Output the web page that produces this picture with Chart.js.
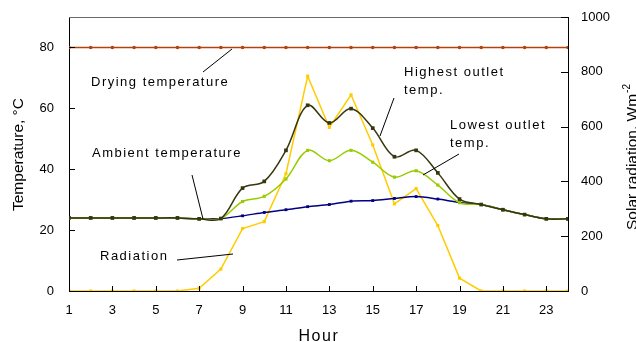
<!DOCTYPE html>
<html>
<head>
<meta charset="utf-8">
<script src="https://cdn.jsdelivr.net/npm/chart.js@4/dist/chart.umd.min.js"></script>
<style>
html,body{margin:0;padding:0;background:#fff;}
#wrap{width:636px;height:342px;position:relative;}
</style>
</head>
<body>
<div id="wrap"><canvas id="c" width="636" height="342"></canvas></div>
<script>
const hours = [1,2,3,4,5,6,7,8,9,10,11,12,13,14,15,16,17,18,19,20,21,22,23,24];
const dryingTemp = [80,80,80,80,80,80,80,80,80,80,80,80,80,80,80,80,80,80,80,80,80,80,80,80];
const highestOutlet = [24.0,24.0,24.0,24.0,24.0,24.0,23.7,23.8,33.8,36.0,46.2,61.0,55.2,59.9,53.5,44.1,46.2,38.8,30.2,28.4,26.7,25.1,23.7,23.7];
const lowestOutlet = [24.0,24.0,24.0,24.0,24.0,24.0,23.7,23.8,29.4,31.1,36.8,46.2,42.8,46.2,42.3,37.4,39.5,34.8,29.0,28.4,26.7,25.1,23.7,23.7];
const ambientTemp = [24.0,24.0,24.0,24.0,24.0,24.0,23.7,23.8,24.7,25.8,26.7,27.7,28.4,29.5,29.7,30.4,31.0,30.2,29.1,28.4,26.7,25.1,23.7,23.7];
const radiation = [0,0,0,0,0,0,10,80,228,253,428,784,597,716,533,318,374,239,47,0,0,0,0,0];
const tempTicks = [0,20,40,60,80];
const radTicks = [0,200,400,600,800,1000];
const hourTicks = [1,3,5,7,9,11,13,15,17,19,21,23];

const FONT = "'Liberation Sans', Arial, sans-serif";
const pts = arr => arr.map((v,i)=>({x:hours[i], y:v}));

const annotate = {
  id:'annotate',
  afterDraw(chart){
    const ctx = chart.ctx;
    const a = chart.chartArea;
    const xs = chart.scales.x, yl = chart.scales.y, yr = chart.scales.y1;
    ctx.save();
    // top frame line
    ctx.strokeStyle = '#6a6a6a'; ctx.lineWidth = 1;
    ctx.beginPath(); ctx.moveTo(a.left, Math.round(a.top)+0.5); ctx.lineTo(a.right, Math.round(a.top)+0.5); ctx.stroke();
    // inside tick marks
    ctx.strokeStyle = '#000';
    ctx.beginPath();
    tempTicks.forEach(v=>{const y=Math.round(yl.getPixelForValue(v))+0.5; ctx.moveTo(a.left,y); ctx.lineTo(a.left+6,y);});
    radTicks.forEach(v=>{const y=Math.round(yr.getPixelForValue(v))+0.5; ctx.moveTo(a.right,y); ctx.lineTo(a.right-7,y);});
    hourTicks.forEach(v=>{const x=Math.round(xs.getPixelForValue(v))+0.5; ctx.moveTo(x,a.bottom); ctx.lineTo(x,a.bottom-5);});
    ctx.stroke();
    // leader lines
    ctx.beginPath();
    ctx.moveTo(203,72); ctx.lineTo(232,49);
    ctx.moveTo(192,175); ctx.lineTo(203,219);
    ctx.moveTo(177,260); ctx.lineTo(233,254);
    ctx.moveTo(394,98); ctx.lineTo(380,136);
    ctx.moveTo(459,154); ctx.lineTo(423,175);
    ctx.stroke();
    // annotation texts
    ctx.fillStyle = '#000';
    ctx.font = '13px ' + FONT;
    ctx.textAlign = 'left'; ctx.textBaseline = 'alphabetic';
    ctx.letterSpacing = '1.5px';
    ctx.fillText('Drying temperature', 91, 86);
    ctx.fillText('Ambient temperature', 92, 157);
    ctx.fillText('Radiation', 100, 260);
    ctx.fillText('Highest outlet', 404, 76);
    ctx.fillText('temp.', 404, 94);
    ctx.fillText('Lowest outlet', 450, 129);
    ctx.fillText('temp.', 450, 147);
    // x title
    ctx.font = '16px ' + FONT;
    ctx.letterSpacing = '1.6px';
    ctx.textAlign = 'center';
    ctx.fillText('Hour', 319, 341);
    // left title
    ctx.letterSpacing = '0px';
    ctx.font = '15.5px ' + FONT;
    ctx.save();
    ctx.translate(22.5, 154.5); ctx.rotate(-Math.PI/2);
    ctx.textAlign = 'center';
    ctx.fillText('Temperature, \u00B0C', 0, 0);
    ctx.restore();
    // right title
    ctx.save();
    ctx.translate(636.5, 230); ctx.rotate(-Math.PI/2);
    ctx.textAlign = 'left';
    const main = 'Solar radiation, Wm';
    ctx.fillText(main, 0, 0);
    const w = ctx.measureText(main).width;
    ctx.font = '10px ' + FONT;
    ctx.fillText('-2', w+1, -7);
    ctx.restore();
    ctx.restore();
  }
};

const mk = (label, data, color, axis, opts) => Object.assign({
  label, data: pts(data), yAxisID: axis,
  borderColor: color, backgroundColor: color, pointBackgroundColor: color, pointBorderColor: color,
  borderWidth: 1.5, pointStyle: 'rect', pointRadius: 2.2, pointBorderWidth: 0, tension: 0, fill:false
}, opts||{});

const plain = v => String(v);

new Chart(document.getElementById('c'), {
  type: 'line',
  data: {
    datasets: [
      mk('Drying temperature', dryingTemp, '#B0440E', 'y', {pointStyle:'circle', pointRadius:1.8, borderWidth:1.5}),
      mk('Highest outlet temp.', highestOutlet, '#36360F', 'y', {tension:0.35, pointRadius:2.6}),
      mk('Lowest outlet temp.', lowestOutlet, '#99CC00', 'y', {tension:0.35}),
      mk('Ambient temperature', ambientTemp, '#000080', 'y', {tension:0.3, pointRadius:2}),
      mk('Radiation', radiation, '#FFCC00', 'y1', {})
    ]
  },
  options: {
    responsive: false, animation: false, devicePixelRatio: 1,
    layout: {padding: {top: 17, left: 0, right: 0, bottom: 0}},
    plugins: {legend: {display:false}, tooltip:{enabled:false}},
    scales: {
      x: {
        type: 'linear', min: 1, max: 24,
        grid: {display:false, drawTicks:false},
        border: {display:true, color:'#000', width:1},
        ticks: {stepSize: 2, color:'#000', font:{family:FONT, size:13}, padding: 12, maxRotation:0, autoSkip:false, callback: plain},
        afterBuildTicks: s => { s.ticks = hourTicks.map(v=>({value:v})); },
        afterFit: s => { s.height = 51; s.paddingLeft = 0; s.paddingRight = 0; }
      },
      y: {
        position: 'left', min: 0, max: 90,
        grid: {display:false, drawTicks:false},
        border: {display:true, color:'#000', width:1},
        ticks: {color:'#000', font:{family:FONT, size:13}, padding: 15, callback: plain},
        afterBuildTicks: s => { s.ticks = tempTicks.map(v=>({value:v})); },
        afterFit: s => { s.width = 69; s.paddingTop = 0; s.paddingBottom = 0; }
      },
      y1: {
        position: 'right', min: 0, max: 1000,
        grid: {display:false, drawTicks:false},
        border: {display:true, color:'#000', width:1},
        ticks: {color:'#000', font:{family:FONT, size:13}, padding: 13, callback: plain},
        afterBuildTicks: s => { s.ticks = radTicks.map(v=>({value:v})); },
        afterFit: s => { s.width = 68; s.paddingTop = 0; s.paddingBottom = 0; }
      }
    }
  },
  plugins: [annotate]
});
</script>
</body>
</html>
